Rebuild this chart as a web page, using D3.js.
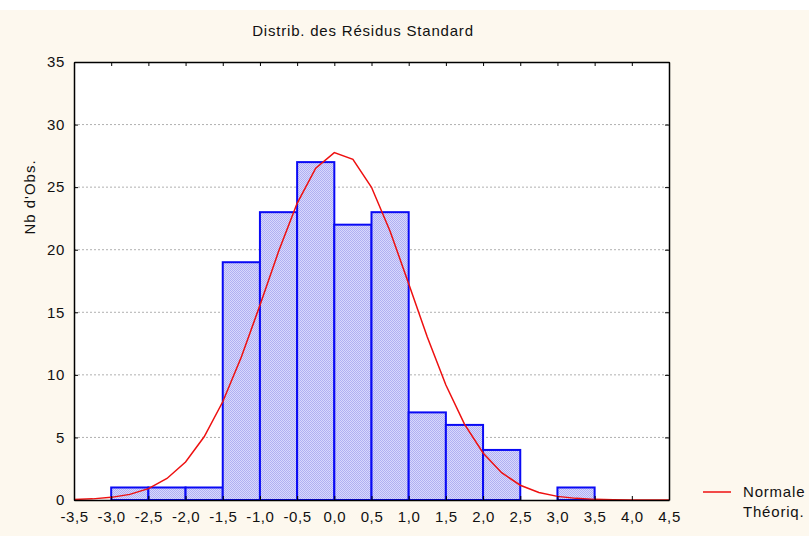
<!DOCTYPE html>
<html>
<head>
<meta charset="utf-8">
<script src="https://cdn.jsdelivr.net/npm/d3@7"></script>
<style>
  body { margin: 0; background: #fff; }
  svg text { font-family: "Liberation Sans", Arial, sans-serif; fill: #111; }
</style>
</head>
<body>
<svg id="chart" width="809" height="536"></svg>
<script>
// histogram bins (lower edge) and counts
var binStarts = [-3.5, -3.0, -2.5, -2.0, -1.5, -1.0, -0.5, 0.0, 0.5, 1.0, 1.5, 2.0, 2.5, 3.0];
var binCounts = [0, 1, 1, 1, 19, 23, 27, 22, 23, 7, 6, 4, 0, 1];
var binWidth = 0.5;

// expected normal curve
var curveX = [-3.5, -3.25, -3.0, -2.75, -2.5, -2.25, -2.0, -1.75, -1.5, -1.25, -1.0, -0.75, -0.5, -0.25,
              0.0, 0.25, 0.5, 0.75, 1.0, 1.25, 1.5, 1.75, 2.0, 2.25, 2.5, 2.75, 3.0, 3.25, 3.5, 3.75, 4.0, 4.25, 4.5];
var curveY = [0.04, 0.09, 0.21, 0.45, 0.91, 1.72, 3.04, 5.05, 7.85, 11.42, 15.56, 19.85, 23.71, 26.51,
              27.76, 27.22, 24.99, 21.48, 17.29, 13.03, 9.19, 6.07, 3.76, 2.18, 1.18, 0.60, 0.29, 0.13, 0.05, 0.02, 0.01, 0.0, 0.0];

var xTicks = [-3.5, -3.0, -2.5, -2.0, -1.5, -1.0, -0.5, 0.0, 0.5, 1.0, 1.5, 2.0, 2.5, 3.0, 3.5, 4.0, 4.5];
var yTicks = [0, 5, 10, 15, 20, 25, 30, 35];

var title = "Distrib. des Résidus Standard";
var yLabel = "Nb d'Obs.";
var legendLines = ["Normale", "Théoriq."];

var svg = d3.select("#chart");
// plot frame (window.top is reserved, so use a box object)
var box = { left: 74, right: 669, top: 62, bottom: 500 };

var x = d3.scaleLinear().domain([-3.5, 4.5]).range([box.left, box.right]);
var y = d3.scaleLinear().domain([0, 35]).range([box.bottom, box.top]);

// background: thin white strip on top, cream below
svg.append("rect").attr("x", 0).attr("y", 10).attr("width", 809).attr("height", 526).attr("fill", "#fdf8ee");
svg.append("rect").attr("x", box.left).attr("y", box.top)
  .attr("width", box.right - box.left).attr("height", box.bottom - box.top).attr("fill", "#fff");

// fine dither pattern for the bars
var defs = svg.append("defs");
var pat = defs.append("pattern").attr("id", "dither")
  .attr("width", 2).attr("height", 2).attr("patternUnits", "userSpaceOnUse");
pat.append("rect").attr("width", 2).attr("height", 2).attr("fill", "#d8d8fd");
pat.append("rect").attr("width", 1).attr("height", 1).attr("fill", "#b0b0f2");
pat.append("rect").attr("x", 1).attr("y", 1).attr("width", 1).attr("height", 1).attr("fill", "#b0b0f2");

// dotted grid
svg.append("g").selectAll("line")
  .data(yTicks.filter(function (d) { return d > 0 && d < 35; }))
  .join("line")
  .attr("x1", box.left).attr("x2", box.right)
  .attr("y1", function (d) { return y(d); }).attr("y2", function (d) { return y(d); })
  .attr("stroke", "#b0b0b0").attr("stroke-width", 1).attr("stroke-dasharray", "2,2");

// bars
svg.append("g").selectAll("rect")
  .data(binStarts.map(function (s, i) { return { x0: s, n: binCounts[i] }; }))
  .join("rect")
  .attr("x", function (d) { return x(d.x0); })
  .attr("y", function (d) { return y(d.n); })
  .attr("width", function (d) { return x(d.x0 + binWidth) - x(d.x0); })
  .attr("height", function (d) { return y(0) - y(d.n); })
  .attr("fill", "url(#dither)")
  .attr("stroke", "#0a0af5").attr("stroke-width", 2);

// normal curve
var line = d3.line()
  .x(function (d) { return x(d[0]); })
  .y(function (d) { return y(d[1]); });
svg.append("path")
  .datum(curveX.map(function (v, i) { return [v, curveY[i]]; }))
  .attr("d", line)
  .attr("fill", "none").attr("stroke", "#ee1010").attr("stroke-width", 1.5);

// frame with inward ticks
var axB = d3.axisBottom(x).tickValues(xTicks).tickSizeInner(-4).tickSizeOuter(0)
  .tickFormat(function (d) { return d3.format(".1f")(d).replace(".", ",").replace("−", "-"); });
var gB = svg.append("g").attr("transform", "translate(0," + box.bottom + ")").call(axB);
gB.selectAll("text").attr("y", 11).attr("dy", "0.71em")
  .style("font-size", "15px").style("letter-spacing", "0.6px");

var axT = d3.axisTop(x).tickValues(xTicks).tickSizeInner(-4).tickSizeOuter(0).tickFormat("");
svg.append("g").attr("transform", "translate(0," + box.top + ")").call(axT);

var axL = d3.axisLeft(y).tickValues(yTicks).tickSizeInner(-4).tickSizeOuter(0);
var gL = svg.append("g").attr("transform", "translate(" + box.left + ",0)").call(axL);
gL.selectAll("text").attr("x", -9).style("font-size", "15px").style("letter-spacing", "0.6px");

var axR = d3.axisRight(y).tickValues(yTicks).tickSizeInner(-4).tickSizeOuter(0).tickFormat("");
svg.append("g").attr("transform", "translate(" + box.right + ",0)").call(axR);

svg.selectAll(".domain").attr("stroke", "#000").attr("stroke-width", 1.5);
svg.selectAll(".tick line").attr("stroke", "#000");
svg.selectAll(".tick text").attr("fill", "#111").style("font-family", "Liberation Sans, Arial, sans-serif");

// title and axis label
svg.append("text").attr("x", 363).attr("y", 36).attr("text-anchor", "middle")
  .style("font-size", "15px").style("letter-spacing", "0.8px").text(title);
svg.append("text").attr("transform", "translate(35,197) rotate(-90)").attr("text-anchor", "middle")
  .style("font-size", "15px").style("letter-spacing", "1px").text(yLabel);

// legend
svg.append("line").attr("x1", 703).attr("x2", 731).attr("y1", 492).attr("y2", 492)
  .attr("stroke", "#ee1010").attr("stroke-width", 1.5);
svg.append("g").selectAll("text").data(legendLines).join("text")
  .attr("x", 743).attr("y", function (d, i) { return 497 + i * 20; })
  .style("font-size", "15px").style("letter-spacing", "0.8px").text(function (d) { return d; });
</script>
</body>
</html>
